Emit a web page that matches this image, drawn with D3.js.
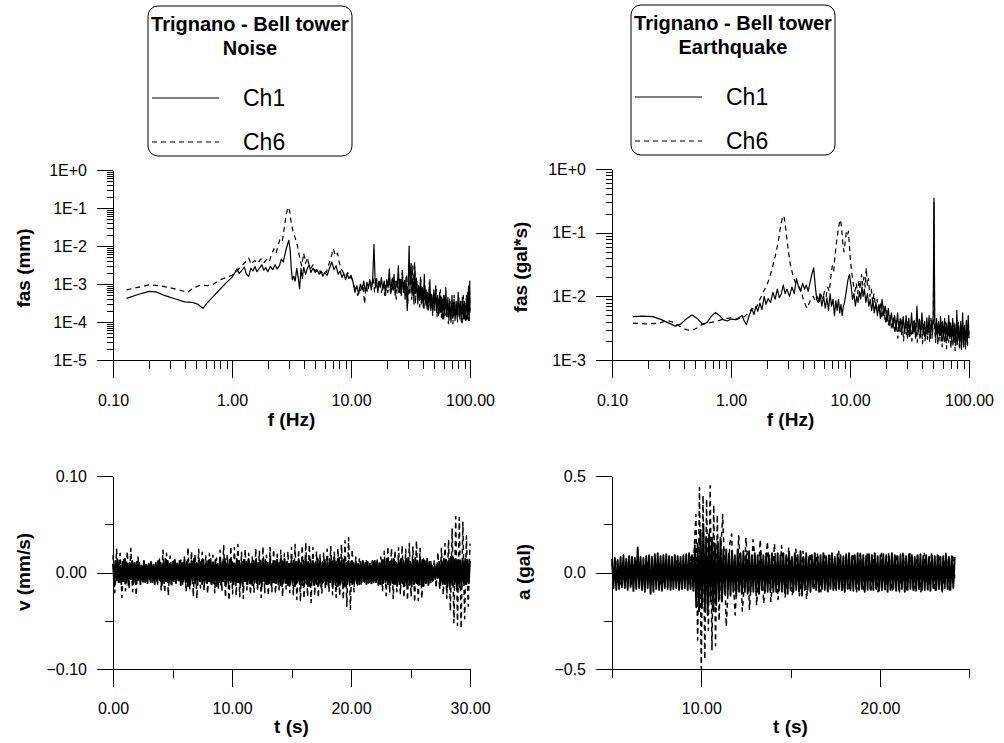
<!DOCTYPE html>
<html>
<head>
<meta charset="utf-8">
<script src="https://cdn.jsdelivr.net/npm/d3@7"></script>
<style>
body { margin: 0; background: #fff; }
svg { font-family: "Liberation Sans", Arial, sans-serif; }
.axis path, .axis line { stroke: #000; stroke-width: 1; shape-rendering: crispEdges; }
.axis text { font-size: 16px; fill: #000; font-family: "Liberation Sans", Arial, sans-serif; }
.ttl { font-weight: bold; font-size: 19px; fill: #000; }
.trace { fill: none; stroke: #000; stroke-width: 1.2; stroke-linejoin: round; }
.thick { stroke-width: 1.5; }
.heavy { stroke-width: 1.9; }
.dash { stroke-dasharray: 5,4; }
</style>
</head>
<body>
<svg id="chart" width="1004" height="743"></svg>
<script>
// ---- spectra: [frequency Hz, amplitude] ----
var noiseCh1 = [[0.13,4.2e-4],[0.16,5.2e-4],[0.2,6.4e-4],[0.23,6.2e-4],[0.27,5.0e-4],[0.33,4.1e-4],[0.4,3.4e-4],[0.46,3.3e-4],[0.52,2.9e-4],[0.57,2.3e-4],[0.62,3.2e-4],[0.7,4.8e-4],[0.8,7.5e-4],[0.9,1.1e-3],[1.0,1.5e-3],[1.05,1.9e-3],[1.1,2.5e-3],[1.15,1.9e-3],[1.2,2.2e-3],[1.27,2.8e-3],[1.32,1.8e-3],[1.38,1.6e-3],[1.44,2.6e-3],[1.5,2.2e-3],[1.56,2.9e-3],[1.62,2.1e-3],[1.7,2.6e-3],[1.78,3.2e-3],[1.85,2.3e-3],[1.92,2.7e-3],[2.0,2.1e-3],[2.1,2.9e-3],[2.2,2.4e-3],[2.3,3.2e-3],[2.4,2.5e-3],[2.5,3.0e-3],[2.6,4.5e-3],[2.7,3.8e-3],[2.8,6.5e-3],[2.9,1.0e-2],[3.0,1.4e-2],[3.08,8e-3],[3.15,2.5e-3],[3.22,1.3e-3],[3.3,1.6e-3],[3.4,1.2e-3],[3.5,2.6e-3],[3.6,1.5e-3],[3.7,7.5e-4],[3.8,2.6e-3],[3.9,1.4e-3],[4.0,2.8e-3],[4.15,1.8e-3],[4.3,2.6e-3],[4.45,3.2e-3],[4.6,2.0e-3],[4.8,2.6e-3],[5.0,2.0e-3],[5.2,2.3e-3],[5.4,1.8e-3],[5.6,2.2e-3],[5.8,1.6e-3],[6.0,2.0e-3],[6.3,1.7e-3],[6.6,2.6e-3],[6.9,3.8e-3],[7.2,2.4e-3],[7.5,3.0e-3],[7.8,1.8e-3],[8.1,2.2e-3],[8.4,1.5e-3],[8.7,1.9e-3],[9.0,1.3e-3],[9.3,1.8e-3],[9.6,1.4e-3],[10.0,1.7e-3],[10.4,1.1e-3],[10.8,6e-4],[11.2,9e-4],[11.6,5.5e-4],[12.0,1.0e-3],[12.4,7e-4],[12.8,1.2e-3],[13.2,6e-4],[13.6,1.1e-3],[14,8e-4],[14.4,1.3e-3],[14.8,7e-4],[15.2,1.2e-3],[15.6,1.1e-2],[16.0,9e-4],[16.4,1.4e-3],[16.8,6e-4],[17.2,1.2e-3],[17.6,8e-4],[18,1.5e-3],[18.5,7e-4],[19,1.2e-3],[19.5,5e-4],[20,1.3e-3],[20.5,8e-4],[21,2.5e-3],[21.5,6e-4],[22,1.1e-3],[22.5,7e-4],[23,1.8e-3],[23.5,5e-4],[24,1.2e-3],[24.5,8e-4],[25,3e-3],[25.5,6e-4],[26,1.3e-3],[26.5,5e-4],[27,2e-3],[27.5,7e-4],[28,1.1e-3],[28.5,4e-4],[29,1.5e-3],[29.7,2e-4],[30.3,1.2e-3],[30.8,1.0e-2],[31.3,8e-4],[32,3.5e-3],[32.6,5e-4],[33.2,1.4e-3],[33.8,3e-4],[34.4,2.8e-3],[35,6e-4],[35.7,1.2e-3],[36.4,3e-4],[37,9e-4],[37.7,4e-4],[38.4,1.5e-3],[39,3e-4],[39.8,8e-4],[40.5,2.5e-4],[41.3,1.8e-3],[42,3e-4],[42.8,7e-4],[43.6,2.2e-4],[44.4,6e-4],[45.2,2.5e-4],[46,1.3e-3],[46.9,2e-4],[47.8,5e-4],[48.7,1.8e-4],[49.6,7e-4],[50.5,2.4e-4],[51.5,9e-4],[52.5,1.8e-4],[53.5,5e-4],[54.5,1.5e-4],[55.6,6e-4],[56.7,1.8e-4],[57.8,4.5e-4],[59,1.2e-4],[60.2,5e-4],[61.4,1.5e-4],[62.6,8e-4],[63.9,1.4e-4],[65.2,4.5e-4],[66.5,1.1e-4],[67.8,3.5e-4],[69.2,1e-4],[70.6,5e-4],[72,1.3e-4],[73.5,4e-4],[75,1.1e-4],[76.5,3.5e-4],[78,1.2e-4],[79.6,6e-4],[81.2,1.4e-4],[82.8,3.5e-4],[84.5,1e-4],[86.2,4.5e-4],[88,1.2e-4],[89.8,3.5e-4],[91.6,1.1e-4],[93.4,5e-4],[95.3,1.2e-4],[97.2,9e-4],[98.6,1.1e-4],[99.5,1.2e-3],[100,2e-4]];

var noiseCh6 = [[0.13,7.0e-4],[0.2,9.5e-4],[0.25,9.0e-4],[0.3,8.0e-4],[0.36,7.0e-4],[0.42,6.0e-4],[0.48,8.0e-4],[0.55,9.5e-4],[0.62,9.0e-4],[0.7,1.0e-3],[0.8,1.3e-3],[0.9,1.5e-3],[1.0,1.7e-3],[1.1,2.2e-3],[1.2,3.0e-3],[1.3,3.8e-3],[1.38,4.8e-3],[1.45,3.3e-3],[1.55,4.2e-3],[1.65,3.5e-3],[1.75,4.6e-3],[1.85,3.6e-3],[1.95,4.4e-3],[2.05,3.8e-3],[2.15,6.0e-3],[2.25,8.5e-3],[2.35,6.5e-3],[2.45,1.1e-2],[2.55,1.6e-2],[2.65,1.4e-2],[2.75,3.0e-2],[2.85,6.5e-2],[2.95,1.05e-1],[3.05,8.5e-2],[3.15,4.0e-2],[3.25,2.5e-2],[3.4,1.6e-2],[3.55,1.0e-2],[3.7,5.0e-3],[3.85,3.0e-3],[4.0,6.5e-3],[4.15,3.5e-3],[4.3,5.0e-3],[4.45,3.0e-3],[4.6,2.6e-3],[4.8,3.2e-3],[5.0,2.2e-3],[5.3,2.6e-3],[5.6,1.9e-3],[5.9,2.3e-3],[6.2,2.0e-3],[6.5,3.2e-3],[6.8,5.0e-3],[7.1,8.5e-3],[7.4,5.5e-3],[7.7,6.5e-3],[8.0,3.5e-3],[8.3,2.5e-3],[8.6,2.0e-3],[9.0,1.6e-3],[9.4,2.0e-3],[9.8,1.5e-3],[10.2,1.4e-3],[10.6,9e-4],[11.0,7e-4],[11.4,5e-4],[11.8,8e-4],[12.2,6e-4],[12.6,1.0e-3],[13.0,3e-4],[13.4,9e-4],[13.8,6e-4],[14.3,1.2e-3],[14.8,8e-4],[15.3,1.5e-3],[15.8,6e-4],[16.3,1.1e-3],[16.8,7e-4],[17.4,1.3e-3],[18,6e-4],[18.6,1.0e-3],[19.2,5e-4],[19.8,1.2e-3],[20.4,6e-4],[21,1.4e-3],[21.6,5e-4],[22.2,1.6e-3],[22.8,7e-4],[23.4,1.2e-3],[24,4e-4],[24.6,1.0e-3],[25.2,6e-4],[25.8,1.5e-3],[26.4,5e-4],[27,2.4e-3],[27.6,6e-4],[28.2,1.3e-3],[28.8,5e-4],[29.4,1.8e-3],[30,3e-4],[30.6,1.1e-3],[31.2,5e-4],[31.8,2e-3],[32.4,4e-4],[33,3e-3],[33.6,7e-4],[34.2,4e-3],[34.8,3e-4],[35.5,1.5e-3],[36.2,4e-4],[37,1e-3],[37.8,2.5e-4],[38.6,1.3e-3],[39.4,3e-4],[40.2,7e-4],[41,2e-4],[41.9,9e-4],[42.8,2.5e-4],[43.7,6e-4],[44.6,1.8e-4],[45.5,1.1e-3],[46.5,2.2e-4],[47.5,6e-4],[48.5,1.5e-4],[49.5,5e-4],[50.6,2e-4],[51.7,8e-4],[52.8,1.4e-4],[54,4e-4],[55.2,1.6e-4],[56.4,7e-4],[57.6,1.3e-4],[58.9,4e-4],[60.2,1.1e-4],[61.5,5.5e-4],[62.9,1.5e-4],[64.3,3.5e-4],[65.8,9e-5],[67.3,4e-4],[68.8,1.2e-4],[70.3,3e-4],[71.9,9e-5],[73.5,5e-4],[75.2,1.3e-4],[76.9,3e-4],[78.6,1e-4],[80.4,4.5e-4],[82.2,1.2e-4],[84,3.5e-4],[85.9,9e-5],[87.8,5e-4],[89.7,1.1e-4],[91.6,3e-4],[93.6,1e-4],[95.6,6e-4],[97.6,1.1e-4],[99,8e-4],[100,1.5e-4]];

var quakeCh1 = [[0.15,4.8e-3],[0.18,4.9e-3],[0.22,4.8e-3],[0.26,4.3e-3],[0.3,3.8e-3],[0.34,3.4e-3],[0.38,3.7e-3],[0.42,4.4e-3],[0.47,5.1e-3],[0.52,4.5e-3],[0.58,3.6e-3],[0.63,3.9e-3],[0.68,4.8e-3],[0.74,5.6e-3],[0.8,5.0e-3],[0.86,4.3e-3],[0.93,4.1e-3],[1.0,4.4e-3],[1.08,4.3e-3],[1.16,4.6e-3],[1.24,5.0e-3],[1.3,4.0e-3],[1.35,3.6e-3],[1.42,5.0e-3],[1.5,6.3e-3],[1.56,5.2e-3],[1.62,7.0e-3],[1.68,5.8e-3],[1.75,7.8e-3],[1.82,6.2e-3],[1.9,1.0e-2],[1.97,7.5e-3],[2.05,9.2e-3],[2.15,8.0e-3],[2.25,1.15e-2],[2.35,9.0e-3],[2.45,1.3e-2],[2.55,9.5e-3],[2.65,1.1e-2],[2.75,1.5e-2],[2.85,1.1e-2],[2.95,1.3e-2],[3.1,1.0e-2],[3.25,1.4e-2],[3.4,1.1e-2],[3.55,1.9e-2],[3.7,1.4e-2],[3.85,1.2e-2],[4.0,1.6e-2],[4.15,1.3e-2],[4.3,1.5e-2],[4.45,1.2e-2],[4.6,1.6e-2],[4.8,2.3e-2],[4.95,2.8e-2],[5.1,1.5e-2],[5.25,9e-3],[5.4,8e-3],[5.6,1.1e-2],[5.8,7e-3],[6.0,1.0e-2],[6.2,6.5e-3],[6.4,9.5e-3],[6.6,6e-3],[6.8,1.1e-2],[7.0,7e-3],[7.2,9e-3],[7.4,5e-3],[7.6,8.5e-3],[7.8,6e-3],[8.0,9e-3],[8.2,5.5e-3],[8.4,7.5e-3],[8.6,5e-3],[8.8,7e-3],[9.0,8e-3],[9.3,1.2e-2],[9.6,1.8e-2],[9.9,2.2e-2],[10.2,1.5e-2],[10.5,9e-3],[10.8,1.1e-2],[11.1,7e-3],[11.4,1.0e-2],[11.7,8e-3],[12.0,1.2e-2],[12.3,9e-3],[12.6,1.4e-2],[12.9,1.0e-2],[13.2,1.3e-2],[13.6,8e-3],[14.0,1.1e-2],[14.4,7e-3],[14.8,9e-3],[15.2,6e-3],[15.6,8.5e-3],[16.0,5.5e-3],[16.5,8e-3],[17,5e-3],[17.5,7.5e-3],[18,4.5e-3],[18.6,9e-3],[19.2,5e-3],[19.8,7e-3],[20.4,4e-3],[21,6.5e-3],[21.6,3.5e-3],[22.3,5.5e-3],[23,3.2e-3],[23.7,5e-3],[24.4,3e-3],[25.1,5.5e-3],[25.8,2.8e-3],[26.5,4.5e-3],[27.2,2.5e-3],[28,4.8e-3],[28.8,2.6e-3],[29.6,5e-3],[30.4,2.2e-3],[31.2,4.5e-3],[32,2.4e-3],[32.9,5.5e-3],[33.8,2.6e-3],[34.7,4.2e-3],[35.6,2.2e-3],[36.5,7e-3],[37.4,2.8e-3],[38.3,4.4e-3],[39.2,2.3e-3],[40.2,5.5e-3],[41.2,2.6e-3],[42.2,4e-3],[43.2,2.2e-3],[44.2,4.6e-3],[45.2,2.5e-3],[46.2,5e-3],[47.2,2.2e-3],[48.2,4.2e-3],[49.2,2.5e-3],[50,5e-3],[50.8,3e-1],[51.6,4e-3],[52.4,2.3e-3],[53.4,4.5e-3],[54.4,2.2e-3],[55.5,4e-3],[56.6,2.4e-3],[57.7,4.8e-3],[58.8,2e-3],[60,4e-3],[61.2,2.3e-3],[62.4,4.5e-3],[63.6,2e-3],[64.9,3.8e-3],[66.2,2.1e-3],[67.5,5e-3],[68.8,2.2e-3],[70.2,3.8e-3],[71.6,1.9e-3],[73,4.5e-3],[74.5,2e-3],[76,3.6e-3],[77.5,1.7e-3],[79,6e-3],[80.5,2e-3],[82,3.5e-3],[83.6,1.6e-3],[85.2,4e-3],[86.8,1.8e-3],[88.4,5.5e-3],[90,1.8e-3],[91.7,3.5e-3],[93.4,1.6e-3],[95.1,4.2e-3],[96.8,1.9e-3],[98.5,5e-3],[100,2.2e-3]];

var quakeCh6 = [[0.15,3.8e-3],[0.2,3.7e-3],[0.25,3.8e-3],[0.29,4.2e-3],[0.33,3.9e-3],[0.37,3.4e-3],[0.42,3.0e-3],[0.47,2.9e-3],[0.52,3.2e-3],[0.58,3.7e-3],[0.65,3.8e-3],[0.72,4.0e-3],[0.8,4.2e-3],[0.9,4.5e-3],[1.0,4.6e-3],[1.1,4.3e-3],[1.2,4.6e-3],[1.3,4.8e-3],[1.4,5.5e-3],[1.5,6.5e-3],[1.6,6.0e-3],[1.7,8.0e-3],[1.8,1.0e-2],[1.9,1.25e-2],[2.0,1.5e-2],[2.1,1.9e-2],[2.2,2.6e-2],[2.3,3.6e-2],[2.4,5.0e-2],[2.5,7.5e-2],[2.6,1.2e-1],[2.7,1.7e-1],[2.78,1.85e-1],[2.86,1.3e-1],[2.95,8e-2],[3.05,4.8e-2],[3.15,3.2e-2],[3.3,2.2e-2],[3.45,1.7e-2],[3.6,1.5e-2],[3.75,1.4e-2],[3.9,1.2e-2],[4.05,9e-3],[4.2,7.5e-3],[4.35,6.5e-3],[4.5,7.5e-3],[4.7,9e-3],[4.9,1.0e-2],[5.1,8.5e-3],[5.3,1.0e-2],[5.5,8e-3],[5.7,1.1e-2],[5.9,9e-3],[6.1,1.2e-2],[6.3,1.0e-2],[6.5,1.4e-2],[6.7,1.2e-2],[6.9,2.0e-2],[7.1,3.0e-2],[7.3,2.5e-2],[7.5,4.5e-2],[7.7,7e-2],[7.9,1.0e-1],[8.1,1.35e-1],[8.3,1.6e-1],[8.5,1.2e-1],[8.7,7e-2],[8.9,5e-2],[9.1,7e-2],[9.3,1.0e-1],[9.5,9e-2],[9.7,1.05e-1],[9.9,6e-2],[10.1,3.5e-2],[10.4,2.2e-2],[10.7,1.5e-2],[11,1.2e-2],[11.3,1.6e-2],[11.6,1.1e-2],[11.9,1.8e-2],[12.2,1.3e-2],[12.5,2.2e-2],[12.8,1.5e-2],[13.1,2.0e-2],[13.4,1.4e-2],[13.7,2.8e-2],[14.0,1.5e-2],[14.3,1.9e-2],[14.7,1.0e-2],[15.1,1.3e-2],[15.5,8e-3],[15.9,1.1e-2],[16.4,6.5e-3],[16.9,9e-3],[17.4,5.5e-3],[18,8e-3],[18.6,4.5e-3],[19.2,7e-3],[19.8,3.8e-3],[20.4,6e-3],[21,3.5e-3],[21.7,5e-3],[22.4,3e-3],[23.1,4.6e-3],[23.8,2.6e-3],[24.5,4.2e-3],[25.2,2.2e-3],[25.9,4e-3],[26.6,2.8e-3],[27.4,4.4e-3],[28.2,2e-3],[29,3.8e-3],[29.8,2.5e-3],[30.6,4.2e-3],[31.4,2.2e-3],[32.2,3.6e-3],[33.1,2e-3],[34,4e-3],[34.9,2.6e-3],[35.8,3.9e-3],[36.7,1.9e-3],[37.7,3.5e-3],[38.7,2.2e-3],[39.7,4.2e-3],[40.7,1.8e-3],[41.7,3.6e-3],[42.7,2e-3],[43.7,4e-3],[44.7,2.1e-3],[45.7,3.5e-3],[46.8,1.9e-3],[47.9,4.5e-3],[49,2.2e-3],[50.2,4e-3],[50.8,3.5e-1],[51.3,3.6e-3],[52.4,1.9e-3],[53.5,3.8e-3],[54.7,1.7e-3],[55.9,3.4e-3],[57.1,2e-3],[58.3,4e-3],[59.5,1.6e-3],[60.8,3.5e-3],[62.1,1.8e-3],[63.4,3.9e-3],[64.7,1.5e-3],[66.1,3.3e-3],[67.5,1.9e-3],[68.9,4.2e-3],[70.4,1.5e-3],[71.9,3.4e-3],[73.4,1.6e-3],[74.9,3.8e-3],[76.5,1.4e-3],[78.1,3.2e-3],[79.7,1.7e-3],[81.3,4e-3],[83,1.5e-3],[84.7,3.3e-3],[86.4,1.4e-3],[88.1,3.6e-3],[89.9,1.6e-3],[91.7,3.2e-3],[93.5,1.5e-3],[95.3,4e-3],[97.1,1.7e-3],[98.9,3.5e-3],[100,2.5e-3]];

// ---- time histories: sampled at start + i*dt ----
var noiseStart = 0, noiseDt1 = 0.1, noiseDt6 = 0.15;
var noiseV1 = [
.009,-.011,.012,-.008,.013,-.01,.007,-.012,.011,-.009,.014,-.01,.008,-.013,.01,-.007,.012,-.011,.009,-.01,
.011,-.008,.01,-.012,.007,-.009,.012,-.01,.008,-.011,.009,-.007,.011,-.01,.008,-.012,.01,-.009,.012,-.008,
.01,-.013,.009,-.011,.014,-.009,.012,-.01,.008,-.012,.011,-.009,.013,-.011,.009,-.008,.012,-.013,.01,-.009,
.013,-.01,.011,-.014,.009,-.012,.012,-.008,.014,-.011,.01,-.013,.012,-.009,.011,-.012,.013,-.01,.009,-.011,
.012,-.009,.014,-.012,.01,-.011,.013,-.014,.009,-.01,.012,-.013,.011,-.009,.014,-.012,.01,-.011,.013,-.01,
.011,-.012,.009,-.013,.014,-.01,.012,-.011,.01,-.014,.013,-.009,.011,-.012,.014,-.011,.009,-.013,.012,-.01,
.013,-.011,.01,-.012,.012,-.014,.011,-.009,.013,-.012,.01,-.011,.014,-.013,.009,-.01,.012,-.011,.013,-.012,
.01,-.013,.012,-.01,.014,-.011,.011,-.013,.009,-.012,.013,-.01,.012,-.014,.011,-.009,.014,-.012,.01,-.013,
.012,-.011,.015,-.012,.011,-.014,.013,-.01,.012,-.013,.01,-.012,.014,-.011,.012,-.015,.011,-.01,.013,-.012,
.011,-.013,.014,-.01,.012,-.012,.016,-.013,.011,-.014,.015,-.012,.012,-.011,.013,-.014,.01,-.012,.012,-.009,
.011,-.012,.01,-.009,.012,-.011,.009,-.012,.011,-.01,.012,-.009,.01,-.012,.011,-.01,.009,-.011,.012,-.01,
.012,-.01,.011,-.013,.01,-.012,.013,-.011,.012,-.01,.014,-.012,.011,-.013,.012,-.011,.014,-.012,.01,-.013,
.013,-.012,.014,-.011,.012,-.014,.013,-.012,.015,-.013,.011,-.014,.013,-.012,.015,-.011,.012,-.013,.014,-.012,
.013,-.014,.012,-.011,.014,-.013,.011,-.01,.007,-.008,.006,-.007,.008,-.006,.011,-.013,.012,-.011,.014,-.012,
.013,-.015,.012,-.014,.016,-.013,.015,-.012,.014,-.016,.013,-.015,.012,-.014,.013,-.011,.014,-.012,.013,-.011,
.012];
var noiseV6 = [
.018,-.021,.024,-.012,.02,-.026,.015,-.019,.022,-.017,
.025,-.02,.013,-.024,.016,-.009,.008,-.011,.01,-.007,
.009,-.01,.006,-.008,.011,-.012,.014,-.019,.023,-.021,
.02,-.024,.017,-.013,.012,-.009,.011,-.01,.013,-.012,
.016,-.02,.026,-.018,.022,-.025,.019,-.027,.024,-.016,
.021,-.019,.017,-.022,.02,-.014,.018,-.021,.015,-.018,
.023,-.02,.028,-.026,.019,-.029,.027,-.022,.026,-.024,
.029,-.025,.021,-.027,.024,-.018,.02,-.023,.016,-.021,
.025,-.019,.022,-.026,.027,-.021,.018,-.024,.026,-.02,
.024,-.022,.019,-.018,.023,-.025,.02,-.017,.022,-.021,
.026,-.023,.029,-.028,.024,-.03,.028,-.027,.031,-.025,
.029,-.031,.026,-.024,.022,-.026,.019,-.022,.021,-.018,
.024,-.02,.027,-.023,.021,-.026,.025,-.024,.029,-.028,
.033,-.035,.036,-.038,.024,-.02,.016,-.013,.014,-.012,
.012,-.01,.013,-.011,.009,-.012,.011,-.009,.013,-.012,
.016,-.019,.022,-.024,.027,-.021,.025,-.027,.023,-.02,
.026,-.022,.028,-.026,.024,-.029,.03,-.025,.027,-.031,
.033,-.029,.025,-.027,.014,-.012,.01,-.011,.012,-.009,
.013,-.016,.021,-.018,.025,-.023,.03,-.027,.034,-.04,
.045,-.052,.058,-.055,.057,-.058,.052,-.048,.038,-.035,
.03];

var quakeStart = 5, quakeDt1 = 0.08, quakeDt6 = 0.1;
var quakeA1 = [
.07,-.08,.075,-.09,.065,-.085,.08,-.075,.09,-.08,.07,-.09,.085,-.075,.08,-.095,.075,-.085,.13,-.08,
.08,-.09,.075,-.1,.085,-.08,.09,-.11,.08,-.1,.095,-.085,.1,-.09,.085,-.095,.09,-.08,.095,-.085,
.085,-.09,.08,-.085,.09,-.08,.085,-.09,.08,-.085,.09,-.08,.095,-.09,.1,-.085,.09,-.095,.14,-.18,
.15,-.2,.22,-.18,.25,-.2,.18,-.22,.2,-.15,.18,-.2,.15,-.17,.16,-.13,.18,-.15,.12,-.11,
.12,-.11,.1,-.12,.11,-.1,.09,-.12,.12,-.1,.1,-.11,.11,-.1,.09,-.11,.11,-.1,.09,-.1,
.1,-.1,.09,-.11,.1,-.09,.09,-.1,.1,-.1,.09,-.09,.1,-.1,.08,-.1,.1,-.09,.09,-.1,
.1,-.1,.09,-.11,.1,-.09,.08,-.1,.1,-.09,.09,-.1,.11,-.12,.08,-.09,.1,-.09,.08,-.1,
.09,-.08,.1,-.09,.08,-.1,.09,-.085,.1,-.09,.085,-.095,.09,-.085,.1,-.09,.08,-.09,.095,-.085,
.09,-.09,.085,-.1,.095,-.085,.1,-.09,.085,-.095,.09,-.085,.1,-.09,.095,-.085,.09,-.1,.085,-.09,
.095,-.085,.09,-.09,.1,-.085,.085,-.095,.09,-.09,.095,-.085,.09,-.1,.085,-.09,.1,-.085,.09,-.095,
.085,-.09,.095,-.085,.09,-.1,.085,-.09,.095,-.085,.09,-.09,.08,-.095,.09,-.085,.095,-.09,.085,-.09,
.09,-.085,.08,-.095,.09,-.08,.085,-.09,.09,-.085,.08,-.09,.085,-.08,.09,-.085,.08,-.09,.085,-.08,
.08];
var quakeA6 = [
.05,-.04,.06,-.05,.03,-.06,.05,-.04,.07,-.05,.04,-.06,.05,-.03,.06,-.05,.04,-.07,.05,-.04,
.06,-.05,.03,-.06,.05,-.04,.07,-.06,.04,-.05,.06,-.04,.05,-.07,.04,-.05,.06,-.04,.05,-.06,
.07,-.05,.04,-.06,.08,-.07,.1,
.3,-.35,.44,-.5,.4,-.45,.38,-.3,.45,-.4,.35,-.38,.3,-.25,
.12,.3,.05,-.28,-.1,.15,.2,-.05,-.22,-.05,.19,.02,-.2,-.08,.18,.06,-.19,-.04,.17,.08,
-.17,-.03,.17,.02,-.16,-.06,.16,.03,-.15,-.05,.15,.01,-.14,-.03,.14,.04,-.13,-.02,.13,.03,
-.12,-.04,.12,.02,-.12,-.03,.11,.01,-.14,-.02,
.1,-.02,-.09,.01,.1,.03,-.1,-.02,.09,.02,-.1,-.01,.1,.03,-.09,-.02,.11,.01,-.1,-.03,
.09,.02,-.09,-.01,.1,.03,-.1,-.02,.1,.01,-.09,-.03,.1,.02,-.1,-.01,.09,.03,-.1,-.02,
.1,.01,-.09,-.02,.1,.03,-.1,-.01,.09,.02,-.1,-.03,.1,.01,-.09,-.02,.1,.02,-.1,-.01,
.09,.03,-.1,-.02,.1,.01,-.09,-.03,.1,.02,-.1,-.01,.09,.02,-.1,-.03,.1,.01,-.09,-.02,
.08,-.03];

var legendTitles = [["Trignano - Bell tower", "Noise"], ["Trignano - Bell tower", "Earthquake"]];
var seriesNames = ["Ch1", "Ch6"];

var svg = d3.select("#chart");

function logMinor(lo, hi) {
  var out = [];
  for (var e = lo; e < hi; e++)
    for (var k = 2; k <= 9; k++) out.push(k * Math.pow(10, e));
  return out;
}
function expFmt(d) {
  var e = Math.round(Math.log10(d));
  return "1E" + (e >= 0 ? "+" + e : e);
}

// draw a y axis + x axis pair
function drawAxes(x, y, o) {
  var x0 = x.range()[0], yb = y.range()[0];
  svg.append("g").attr("class", "axis")
    .attr("transform", "translate(" + x0 + ",0)")
    .call(d3.axisLeft(y).tickValues(o.yMajor).tickFormat(o.yFmt)
      .tickSize(16).tickSizeOuter(0).tickPadding(10));
  svg.append("g").attr("class", "axis")
    .attr("transform", "translate(" + x0 + ",0)")
    .call(d3.axisLeft(y).tickValues(o.yMinor).tickFormat("").tickSize(o.yMinorLen).tickSizeOuter(0))
    .select(".domain").remove();
  svg.append("g").attr("class", "axis")
    .attr("transform", "translate(0," + yb + ")")
    .call(d3.axisBottom(x).tickValues(o.xMajor).tickFormat(o.xFmt)
      .tickSize(18).tickSizeOuter(0).tickPadding(o.xPad));
  svg.append("g").attr("class", "axis")
    .attr("transform", "translate(0," + yb + ")")
    .call(d3.axisBottom(x).tickValues(o.xMinor).tickFormat("").tickSize(9).tickSizeOuter(0))
    .select(".domain").remove();

  var xm = (x.range()[0] + x.range()[1]) / 2;
  svg.append("text").attr("class", "ttl")
    .attr("x", xm).attr("y", o.xLabelY).attr("text-anchor", "middle").text(o.xLabel);
  svg.append("text").attr("class", "ttl")
    .attr("transform", "translate(" + o.yLabelX + "," + o.yLabelY + ") rotate(-90)")
    .attr("text-anchor", "middle").text(o.yLabel);
}

function drawLegend(bx, by, titles) {
  var g = svg.append("g").attr("transform", "translate(" + bx + "," + by + ")");
  g.append("rect").attr("width", 204).attr("height", 150).attr("rx", 10)
    .attr("fill", "none").attr("stroke", "#000").attr("stroke-width", 1);
  g.append("text").attr("class", "ttl").attr("x", 102).attr("y", 25)
    .style("font-size", "20px").attr("text-anchor", "middle").text(titles[0]);
  g.append("text").attr("class", "ttl").attr("x", 102).attr("y", 49)
    .style("font-size", "20px").attr("text-anchor", "middle").text(titles[1]);
  seriesNames.forEach(function(name, i) {
    var ly = 92 + i * 44;
    g.append("line").attr("class", "trace" + (i ? " dash" : ""))
      .attr("x1", 4).attr("x2", 71).attr("y1", ly).attr("y2", ly);
    g.append("text").attr("x", 95).attr("y", ly + 8)
      .style("font-size", "23px").text(name);
  });
}

// ---- top left: noise spectra ----
var xTL = d3.scaleLog().domain([0.1, 100]).range([113, 470]);
var yTL = d3.scaleLog().domain([1e-5, 1]).range([360, 170]);
drawAxes(xTL, yTL, {
  yMajor: [1e-5, 1e-4, 1e-3, 1e-2, 1e-1, 1], yMinor: logMinor(-5, 0), yMinorLen: 6, yFmt: expFmt,
  xMajor: [0.1, 1, 10, 100], xMinor: logMinor(-1, 2), xFmt: d3.format(".2f"), xPad: 17,
  xLabel: "f (Hz)", xLabelY: 426, yLabel: "fas (mm)", yLabelX: 30, yLabelY: 268
});
var specTL = d3.line().x(function(d) { return xTL(d[0]); }).y(function(d) { return yTL(d[1]); });
svg.append("path").datum(noiseCh6).attr("class", "trace dash").attr("d", specTL);
svg.append("path").datum(noiseCh1).attr("class", "trace").attr("d", specTL);

// ---- top right: earthquake spectra ----
var xTR = d3.scaleLog().domain([0.1, 100]).range([612, 969]);
var yTR = d3.scaleLog().domain([1e-3, 1]).range([360, 169]);
drawAxes(xTR, yTR, {
  yMajor: [1e-3, 1e-2, 1e-1, 1], yMinor: logMinor(-3, 0), yMinorLen: 6, yFmt: expFmt,
  xMajor: [0.1, 1, 10, 100], xMinor: logMinor(-1, 2), xFmt: d3.format(".2f"), xPad: 17,
  xLabel: "f (Hz)", xLabelY: 426, yLabel: "fas (gal*s)", yLabelX: 527, yLabelY: 267
});
var specTR = d3.line().x(function(d) { return xTR(d[0]); }).y(function(d) { return yTR(d[1]); });
svg.append("path").datum(quakeCh6).attr("class", "trace dash").attr("d", specTR);
svg.append("path").datum(quakeCh1).attr("class", "trace").attr("d", specTR);

// ---- bottom left: noise velocity ----
var xBL = d3.scaleLinear().domain([0, 30]).range([113, 470]);
var yBL = d3.scaleLinear().domain([-0.1, 0.1]).range([669, 476]);
drawAxes(xBL, yBL, {
  yMajor: [-0.1, 0, 0.1], yMinor: [-0.05, 0.05], yMinorLen: 8, yFmt: d3.format(".2f"),
  xMajor: [0, 10, 20, 30], xMinor: [5, 15, 25], xFmt: d3.format(".2f"), xPad: 16,
  xLabel: "t (s)", xLabelY: 733, yLabel: "v (mm/s)", yLabelX: 30, yLabelY: 572
});
function series(x, y, t0, dt) {
  return d3.line().x(function(d, i) { return x(t0 + i * dt); }).y(function(d) { return y(d); });
}
svg.append("path").datum(noiseV6).attr("class", "trace thick dash").attr("d", series(xBL, yBL, noiseStart, noiseDt6));
svg.append("path").datum(noiseV1).attr("class", "trace heavy").attr("d", series(xBL, yBL, noiseStart, noiseDt1));

// ---- bottom right: earthquake acceleration ----
var xBR = d3.scaleLinear().domain([5, 25]).range([612, 969]);
var yBR = d3.scaleLinear().domain([-0.5, 0.5]).range([669, 476]);
drawAxes(xBR, yBR, {
  yMajor: [-0.5, 0, 0.5], yMinor: [-0.25, 0.25], yMinorLen: 8, yFmt: d3.format(".1f"),
  xMajor: [10, 20], xMinor: [5, 15, 25], xFmt: d3.format(".2f"), xPad: 16,
  xLabel: "t (s)", xLabelY: 733, yLabel: "a (gal)", yLabelX: 530, yLabelY: 572
});
svg.append("path").datum(quakeA6).attr("class", "trace thick dash").attr("d", series(xBR, yBR, quakeStart, quakeDt6));
svg.append("path").datum(quakeA1).attr("class", "trace heavy").attr("d", series(xBR, yBR, quakeStart, quakeDt1));

drawLegend(148, 6, legendTitles[0]);
drawLegend(631, 5, legendTitles[1]);
</script>
</body>
</html>
